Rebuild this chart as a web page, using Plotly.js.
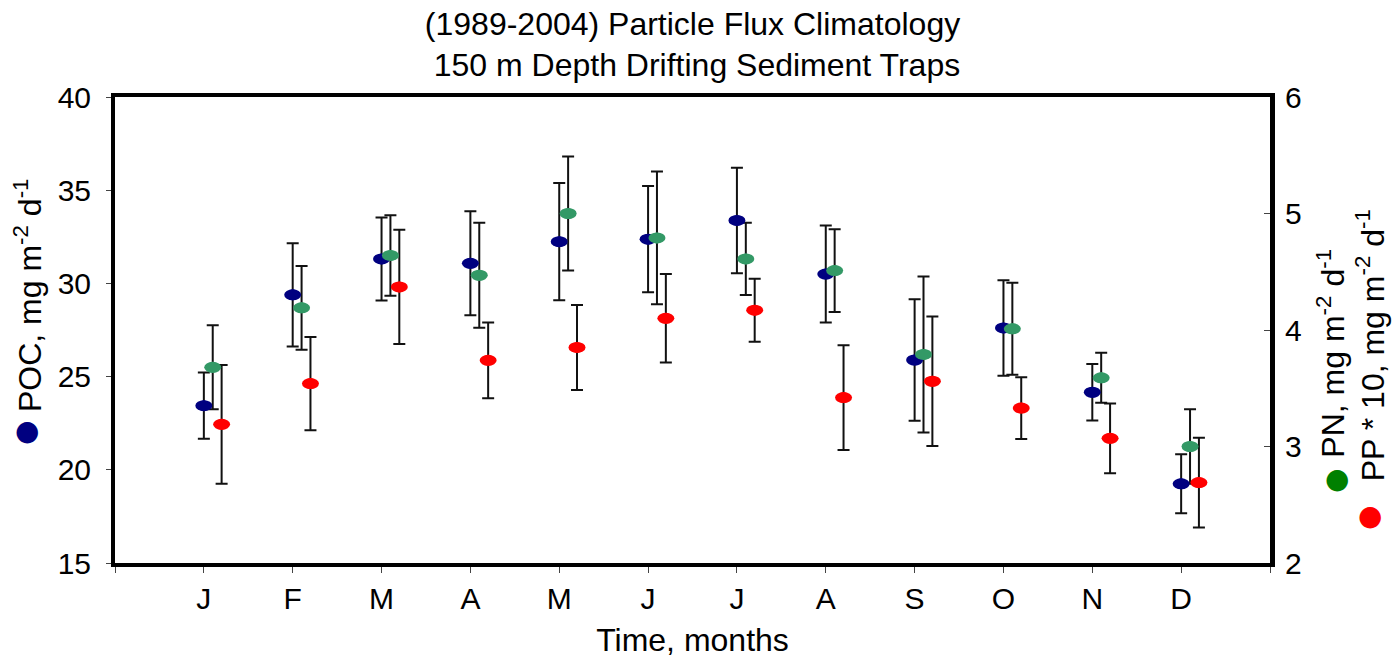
<!DOCTYPE html>
<html>
<head>
<meta charset="utf-8">
<script src="https://cdn.plot.ly/plotly-3.0.1.min.js"></script>
<style>html,body{margin:0;padding:0;background:#fff;}#chart{width:1397px;height:658px;}</style>
</head>
<body>
<div id="chart"></div>
<script>
// ---- data ----
const months = ['J','F','M','A','M','J','J','A','S','O','N','D'];
const poc    = [23.44, 29.39, 31.31, 31.08, 32.24, 32.37, 33.38, 30.50, 25.89, 27.61, 24.16, 19.25];
const pocErr = [1.78, 2.77, 2.23, 2.79, 3.14, 2.85, 2.83, 2.60, 3.26, 2.56, 1.51, 1.58];
const pn     = [3.68, 4.19, 4.64, 4.47, 5.00, 4.79, 4.61, 4.51, 3.79, 4.01, 3.59, 3.00];
const pnErr  = [0.36, 0.36, 0.345, 0.45, 0.49, 0.57, 0.31, 0.355, 0.67, 0.395, 0.215, 0.32];
const pp     = [3.19, 3.54, 4.37, 3.74, 3.85, 4.10, 4.17, 3.42, 3.56, 3.33, 3.07, 2.69];
const ppErr  = [0.51, 0.40, 0.49, 0.325, 0.365, 0.38, 0.27, 0.45, 0.555, 0.265, 0.30, 0.385];

const FONT = '"Liberation Sans", Arial, Helvetica, sans-serif';
const NAVY = '#000080', GREEN = '#339966', RED = '#ff0000';

const idx = months.map((m, i) => i + 1);
const xPOC = idx.map(v => v);
const xPN  = idx.map(v => v + 0.1);
const xPP  = idx.map(v => v + 0.2);

function trace(name, x, y, err, color, yaxis) {
  return {
    type: 'scatter', mode: 'markers', name: name, x: x, y: y, yaxis: yaxis,
    marker: {color: color, size: 11, line: {width: 0}},
    error_y: {type: 'data', array: err, visible: true, color: '#111', thickness: 2, width: 6},
    hoverinfo: 'x+y'
  };
}

const traces = [
  trace('POC', xPOC, poc, pocErr, NAVY, 'y'),
  trace('PN', xPN, pn, pnErr, GREEN, 'y2'),
  trace('PP*10', xPP, pp, ppErr, RED, 'y2')
];

// elliptical markers (pixel-sized, anchored to data via the axes)
const shapes = [];
function addEllipses(x, y, color, yref) {
  x.forEach((xv, i) => {
    shapes.push({
      type: 'circle', xref: 'x', yref: yref,
      xsizemode: 'pixel', ysizemode: 'pixel',
      xanchor: xv, yanchor: y[i],
      x0: -8.5, x1: 8.5, y0: -5.5, y1: 5.5,
      fillcolor: color, line: {width: 0}, layer: 'above'
    });
  });
}
addEllipses(xPOC, poc, NAVY, 'y');
addEllipses(xPN, pn, GREEN, 'y2');
addEllipses(xPP, pp, RED, 'y2');

const tickVals = [0].concat(idx, [13]);
const tickText = [''].concat(months, ['']);

const layout = {
  width: 1397, height: 658,
  margin: {l: 115, r: 127, t: 97, b: 95},
  paper_bgcolor: '#fff', plot_bgcolor: '#fff',
  showlegend: false,
  font: {family: FONT, size: 30, color: '#000'},
  title: {
    text: '(1989-2004) Particle Flux Climatology<br> 150 m Depth Drifting Sediment Traps',
    font: {family: FONT, size: 32, color: '#000'},
    x: 0.5, xanchor: 'center', xref: 'paper', y: 0.947, yanchor: 'middle'
  },
  xaxis: {
    range: [0, 13], tickmode: 'array', tickvals: tickVals, ticktext: tickText,
    ticks: 'outside', ticklen: 6, tickwidth: 1, tickcolor: '#444',
    showline: true, linewidth: 4, linecolor: '#000', mirror: true,
    showgrid: false, zeroline: false, automargin: false,
    tickfont: {family: FONT, size: 30},
    ticklabelstandoff: 0,
    title: {text: 'Time, months', font: {family: FONT, size: 32}, standoff: 30}
  },
  yaxis: {
    range: [15, 40], tickvals: [15, 20, 25, 30, 35, 40],
    ticks: 'outside', ticklen: 5, tickwidth: 1, tickcolor: '#444',
    showline: true, linewidth: 4, linecolor: '#000', mirror: false,
    showgrid: false, zeroline: false, automargin: false,
    tickfont: {family: FONT, size: 30},
    ticklabelstandoff: 9
  },
  yaxis2: {
    range: [2, 6], tickvals: [2, 3, 4, 5, 6], overlaying: 'y', side: 'right',
    ticks: 'inside', ticklen: 6, tickwidth: 1, tickcolor: '#444',
    showline: true, linewidth: 5, linecolor: '#000',
    showgrid: false, zeroline: false, automargin: false,
    tickfont: {family: FONT, size: 30},
    ticklabelstandoff: 4
  },
  shapes: shapes,
  annotations: [
    {text: 'POC, mg m<sup>-2</sup> d<sup>-1</sup>', textangle: -90, xref: 'paper', yref: 'paper',
     x: -0.0753, y: 0.575, xanchor: 'center', yanchor: 'middle', showarrow: false,
     font: {family: FONT, size: 32, color: '#000'}},
    {text: '●', xref: 'paper', yref: 'paper', x: -0.0765, y: 0.285, xanchor: 'center', yanchor: 'middle',
     showarrow: false, font: {family: '"DejaVu Sans"', size: 28, color: NAVY}},
    {text: 'PN, mg m<sup>-2</sup> d<sup>-1</sup>', textangle: -90, xref: 'paper', yref: 'paper',
     x: 1.0525, y: 0.4506, xanchor: 'center', yanchor: 'middle', showarrow: false,
     font: {family: FONT, size: 32, color: '#000'}},
    {text: '●', xref: 'paper', yref: 'paper', x: 1.0578, y: 0.182, xanchor: 'center', yanchor: 'middle',
     showarrow: false, font: {family: '"DejaVu Sans"', size: 28, color: '#008000'}},
    {text: 'PP * 10, mg m<sup>-2</sup> d<sup>-1</sup>', textangle: -90, xref: 'paper', yref: 'paper',
     x: 1.0868, y: 0.4678, xanchor: 'center', yanchor: 'middle', showarrow: false,
     font: {family: FONT, size: 32, color: '#000'}},
    {text: '●', xref: 'paper', yref: 'paper', x: 1.0866, y: 0.103, xanchor: 'center', yanchor: 'middle',
     showarrow: false, font: {family: '"DejaVu Sans"', size: 28, color: RED}}
  ]
};

Plotly.newPlot('chart', traces, layout, {displayModeBar: false, staticPlot: true});
</script>
</body>
</html>
